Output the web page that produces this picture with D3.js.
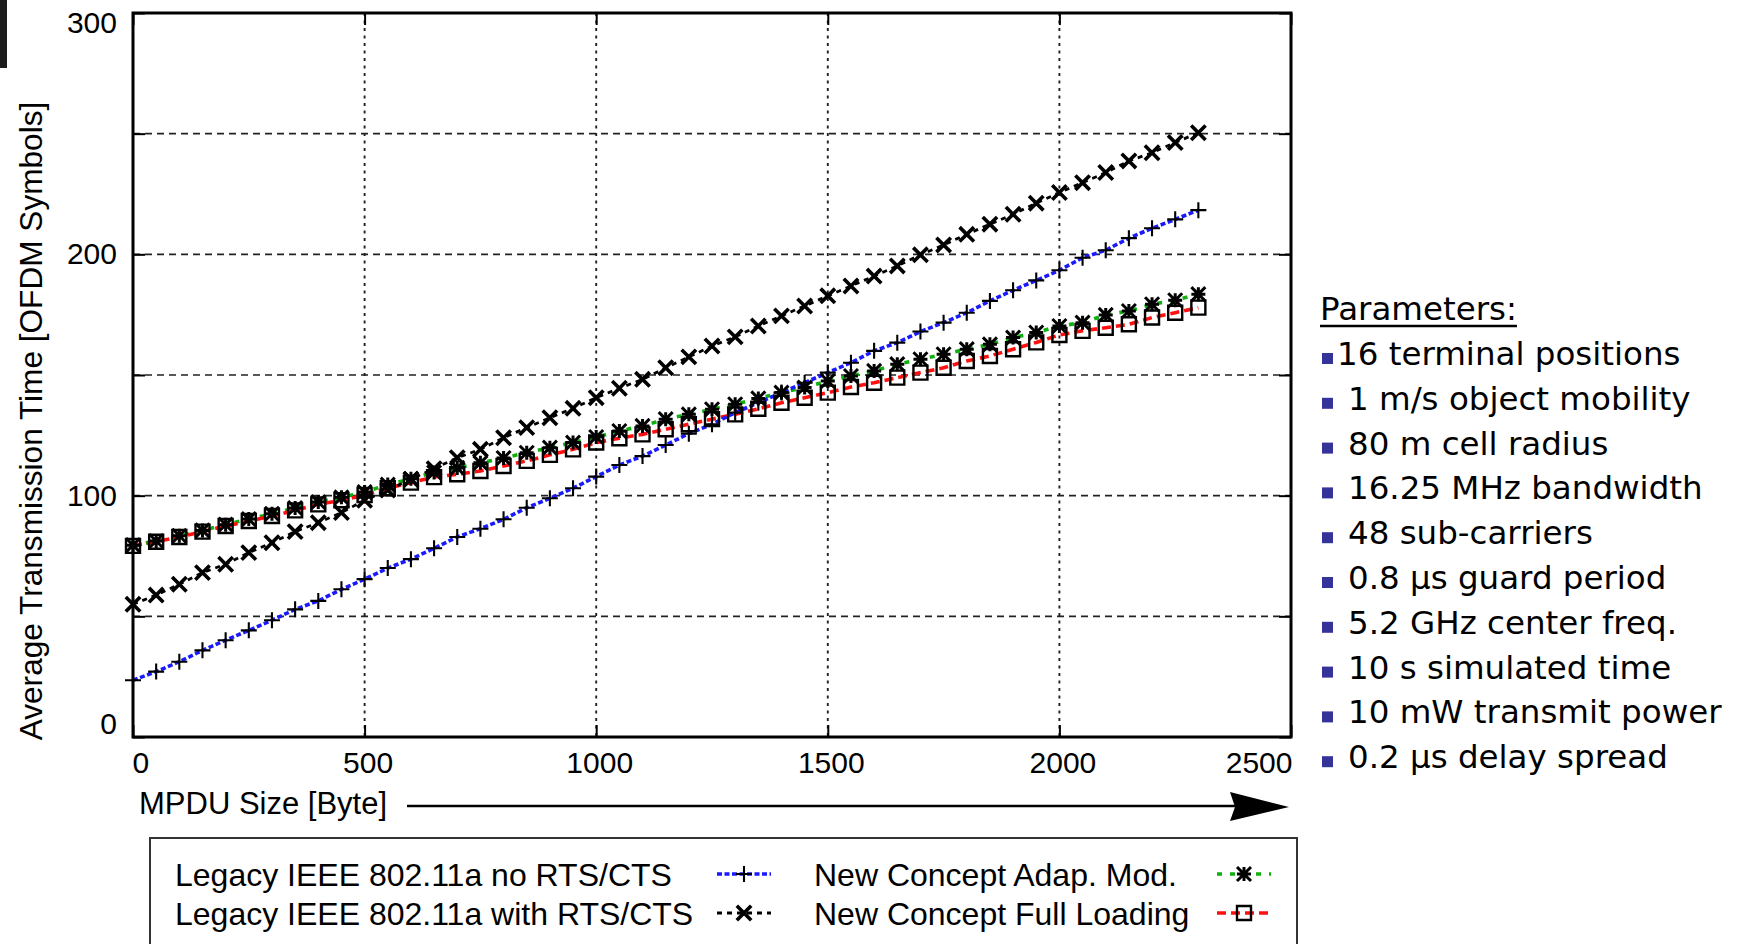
<!DOCTYPE html>
<html>
<head>
<meta charset="utf-8">
<script src="https://cdn.jsdelivr.net/npm/d3@7"></script>
<style>
body{margin:0;background:#fff;}
svg text{font-family:"Liberation Sans",Arial,sans-serif;fill:#000;}
.params text{font-family:"DejaVu Sans",sans-serif;}
</style>
</head>
<body>
<svg id="chart" width="1740" height="944"></svg>
<script>
// MPDU sizes in byte
var sizes=[0,50,100,150,200,250,300,350,400,450,
    500,550,600,650,700,750,800,850,900,950,
    1000,1050,1100,1150,1200,1250,1300,1350,1400,1450,
    1500,1550,1600,1650,1700,1750,1800,1850,1900,1950,
    2000,2050,2100,2150,2200,2250,2300];

var legacyNoRts=[23.5,27.1,31.2,35.9,40.1,44.2,48.4,52.9,56.4,61.2,
    65.4,70.0,73.7,78.2,82.9,86.3,90.2,95.0,98.9,103.1,
    107.9,112.7,116.4,121.0,125.7,129.6,134.4,138.5,142.7,146.8,
    151.0,155.1,160.0,163.4,168.0,171.7,175.8,180.7,185.1,189.2,
    193.4,198.6,201.7,206.7,210.8,214.5,218.3];

var legacyRts=[55.0,58.8,63.3,68.1,71.6,76.4,80.5,85.1,88.8,93.0,
    98.1,102.3,106.8,111.2,115.7,119.2,124.0,128.2,132.3,136.2,
    140.6,144.5,148.2,153.0,157.5,162.0,165.8,170.3,174.5,178.6,
    182.8,186.9,191.0,195.2,199.8,203.9,208.3,212.5,216.6,221.2,
    225.6,229.7,233.9,238.7,242.1,246.3,250.4];

var adapMod=[79.5,81.2,83.4,85.6,88.0,90.3,92.5,94.9,97.4,99.3,
    101.5,104.6,107.0,109.6,111.5,113.6,115.6,117.8,119.9,122.0,
    124.3,126.8,128.9,131.7,133.7,135.8,137.9,140.3,142.7,144.8,
    147.5,149.6,151.7,154.5,156.5,158.6,160.7,162.7,165.5,167.6,
    170.3,171.7,174.9,176.5,179.3,181.0,183.5];

var fullLoad=[79.2,80.9,82.9,85.1,87.4,89.5,91.6,93.9,96.4,98.1,
    100.3,103.1,105.4,107.7,108.9,110.2,112.3,114.4,116.9,119.2,
    122.0,123.8,125.4,127.5,129.6,131.7,133.7,136.0,138.5,140.6,
    142.7,145.0,146.8,148.9,151.0,153.0,155.8,157.9,160.7,163.5,
    166.6,168.3,169.6,171.0,173.8,175.8,177.9];

var yTicks=[0,50,100,150,200,250,300];
var yLabels=[0,100,200,300];
var xTicks=[0,500,1000,1500,2000,2500];
var legendNames=['Legacy IEEE 802.11a no RTS/CTS','Legacy IEEE 802.11a with RTS/CTS',
    'New Concept Adap. Mod.','New Concept Full Loading'];
var params=['16 terminal positions','1 m/s object mobility','80 m cell radius',
    '16.25 MHz bandwidth','48 sub-carriers','0.8 \u00b5s guard period',
    '5.2 GHz center freq.','10 s simulated time','10 mW transmit power','0.2 \u00b5s delay spread'];

var svg=d3.select('#chart');
var plotL=133, plotR=1291, plotT=13, plotB=737;

var x=d3.scaleLinear().domain([0,2500]).range([plotL,plotR]);
var y=d3.scaleLinear().domain([0,300]).range([plotB,plotT]);

svg.append('rect').attr('x',0).attr('y',0).attr('width',7).attr('height',68).attr('fill','#1c1c1c');

// grid
svg.append('g').selectAll('line').data(yTicks.slice(1,-1)).enter().append('line')
    .attr('x1',plotL).attr('x2',plotR).attr('y1',d=>y(d)).attr('y2',d=>y(d))
    .attr('stroke','#222').attr('stroke-width',1.7).attr('stroke-dasharray','7,5');
svg.append('g').selectAll('line').data(xTicks.slice(1,-1)).enter().append('line')
    .attr('y1',plotT).attr('y2',plotB).attr('x1',d=>x(d)).attr('x2',d=>x(d))
    .attr('stroke','#222').attr('stroke-width',1.9).attr('stroke-dasharray','3,4.5');

// axes (inward ticks on all four sides)
var yAxis=svg.append('g').attr('transform',`translate(${plotL},0)`)
    .call(d3.axisLeft(y).tickValues(yTicks).tickSize(-12).tickPadding(16)
        .tickFormat(d=>yLabels.indexOf(d)>=0?d:''));
yAxis.selectAll('text').style('font-size','30px')
    .attr('y',d=>d===300?10:(d===0?-13:0));
var xAxis=svg.append('g').attr('transform',`translate(0,${plotB})`)
    .call(d3.axisBottom(x).tickValues(xTicks).tickSize(-12).tickPadding(15).tickFormat(d3.format('d')));
xAxis.selectAll('text').style('font-size','30px')
    .attr('text-anchor',d=>d===0?'start':(d===2500?'end':'middle'))
    .attr('x',d=>d===0?-1:(d===2500?1:3));
svg.append('g').attr('transform',`translate(0,${plotT})`)
    .call(d3.axisTop(x).tickValues(xTicks).tickSize(-12).tickFormat(''));
svg.append('g').attr('transform',`translate(${plotR},0)`)
    .call(d3.axisRight(y).tickValues(yTicks).tickSize(-12).tickFormat(''));
svg.selectAll('.domain').remove();
svg.selectAll('.tick line').attr('stroke','#000').attr('stroke-width',2);

// series
var series=[
    {values:adapMod,color:'#10b010',dash:'5,8',width:3.6,marker:'star'},
    {values:fullLoad,color:'#ff1010',dash:'9,5',width:3.6,marker:'square'},
    {values:legacyRts,color:'#000',dash:'5,5',width:2.8,marker:'times'},
    {values:legacyNoRts,color:'#1a1aff',dash:'5,2.5',width:3.6,marker:'plus'}
];

function markerPath(type,s) {
    var p=`M${-s},0H${s}M0,${-s}V${s}`;
    var t=`M${-s},${-s}L${s},${s}M${-s},${s}L${s},${-s}`;
    if (type==='plus') return p;
    if (type==='times') return t;
    if (type==='star') return p+t;
    return `M${-s},${-s}H${s}V${s}H${-s}Z`;
}
var markerSize={plus:8,times:7.2,star:7,square:7};
var markerWidth={plus:2.1,times:3.6,star:3,square:2.4};

var line=d3.line().x((d,i)=>x(sizes[i])).y(d=>y(d));
series.forEach(function(s) {
    svg.append('path').datum(s.values).attr('d',line).attr('fill','none')
        .attr('stroke',s.color).attr('stroke-width',s.width).attr('stroke-dasharray',s.dash);
});
[series[3],series[2],series[1],series[0]].forEach(function(s) {
    svg.append('g').selectAll('path').data(s.values).enter().append('path')
        .attr('transform',(d,i)=>`translate(${x(sizes[i])},${y(d)})`)
        .attr('d',markerPath(s.marker,markerSize[s.marker])).attr('fill','none')
        .attr('stroke','#000').attr('stroke-width',markerWidth[s.marker]);
});

// frame
svg.append('rect').attr('x',plotL).attr('y',plotT).attr('width',plotR-plotL).attr('height',plotB-plotT)
    .attr('fill','none').attr('stroke','#000').attr('stroke-width',3);

// axis titles
svg.append('text').attr('transform','translate(42,421) rotate(-90)').attr('text-anchor','middle')
    .style('font-size','31.6px').text('Average Transmission Time [OFDM Symbols]');
svg.append('text').attr('x',139).attr('y',814).style('font-size','31px').text('MPDU Size [Byte]');
svg.append('line').attr('x1',407).attr('x2',1236).attr('y1',806).attr('y2',806)
    .attr('stroke','#000').attr('stroke-width',2.5);
svg.append('path').attr('d','M1230,792L1289,807L1230,821L1235,807Z').attr('fill','#000');

// legend
svg.append('rect').attr('x',150).attr('y',838).attr('width',1147).attr('height',130)
    .attr('fill','none').attr('stroke','#333').attr('stroke-width',2);
var legendOrder=[3,2,0,1];
legendNames.forEach(function(name,i) {
    var col=Math.floor(i/2), row=i%2;
    var tx=col===0?175:814, ty=row===0?886:925, cx=col===0?744:1244;
    var s=series[legendOrder[i]];
    svg.append('text').attr('x',tx).attr('y',ty).style('font-size','32px').text(name);
    svg.append('line').attr('x1',cx-27).attr('x2',cx+27).attr('y1',ty-12).attr('y2',ty-12)
        .attr('stroke',s.color).attr('stroke-width',s.width).attr('stroke-dasharray',s.dash);
    svg.append('path').attr('transform',`translate(${cx},${ty-12})`)
        .attr('d',markerPath(s.marker,markerSize[s.marker])).attr('fill','none')
        .attr('stroke','#000').attr('stroke-width',markerWidth[s.marker]);
});

// parameter list
var pg=svg.append('g').attr('class','params');
var title=pg.append('text').attr('x',1320).attr('y',320).style('font-size','32.5px').text('Parameters:');
var tw=title.node().getComputedTextLength();
pg.append('line').attr('x1',1320).attr('x2',1320+tw).attr('y1',326).attr('y2',326)
    .attr('stroke','#000').attr('stroke-width',2.5);
params.forEach(function(p,i) {
    var by=365+i*44.8;
    pg.append('rect').attr('x',1322).attr('y',by-12).attr('width',11).attr('height',11).attr('fill','#333399');
    pg.append('text').attr('x',i===0?1337:1348).attr('y',by).style('font-size','32.5px').text(p);
});
</script>
</body>
</html>
